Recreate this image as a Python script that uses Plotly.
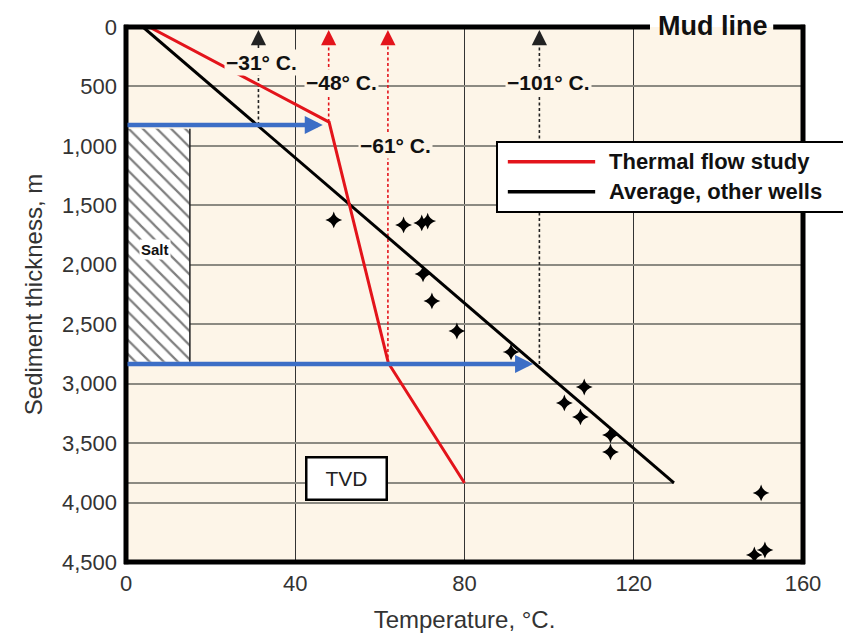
import plotly.graph_objects as go

# ---------------- data ----------------
thermal_temp = [5.5, 48, 62, 80]
thermal_depth = [0, 800, 2826, 3835]

average_temp = [4, 129.5]
average_depth = [0, 3835]

well_temp = [49.1, 65.6, 69.9, 71.3, 70.2, 72.3, 78.2, 91.0, 108.3, 103.6, 107.4, 114.5, 114.5, 150.1, 148.5, 151.0]
well_depth = [1623, 1665, 1648, 1632, 2077, 2304, 2557, 2733, 3028, 3162, 3280, 3431, 3574, 3919, 4441, 4399]

marker_temps = [31.3, 47.9, 61.9, 97.7]
marker_bottoms = [824, 800, 2826, 2834]
marker_labels = ["\u221231\u00b0 C.", "\u221248\u00b0 C.", "\u221261\u00b0 C.", "\u2212101\u00b0 C."]
marker_colors = ["#222222", "#E3141B", "#E3141B", "#222222"]
label_temp = [32.0, 51.0, 63.7, 99.8]
label_depth = [301, 470, 1000, 470]
arrow_top = 25

blue_depths = [824, 2834]
blue_tips = [46.5, 96.2]

salt_left, salt_right = 0, 15.1
salt_top, salt_bottom = 855, 2815

tvd_depth = 3835
x_ticks = [0, 40, 80, 120, 160]
y_ticks = [0, 500, 1000, 1500, 2000, 2500, 3000, 3500, 4000, 4500]
y_ticktext = ["0", "500", "1,000", "1,500", "2,000", "2,500", "3,000", "3,500", "4,000", "4,500"]

CREAM = "#FDF5E8"
RED = "#E3141B"
BLUE = "#3C6EC6"
FONT = "Liberation Sans, Arial, sans-serif"

fig = go.Figure()

# salt body (hatched)
fig.add_trace(go.Scatter(
    x=[salt_left, salt_right, salt_right, salt_left, salt_left],
    y=[salt_top, salt_top, salt_bottom, salt_bottom, salt_top],
    mode="lines", fill="toself", line=dict(width=0, color="black"),
    fillcolor="white",
    fillpattern=dict(shape="\\", fgcolor="#000000", bgcolor="white", size=10, solidity=0.22),
    hoverinfo="skip", showlegend=False, name="Salt"))
fig.add_trace(go.Scatter(
    x=[salt_right, salt_right], y=[salt_top, salt_bottom], mode="lines",
    line=dict(color="#222222", width=1.5), hoverinfo="skip", showlegend=False))

# TVD line
fig.add_trace(go.Scatter(
    x=[0, average_temp[-1]], y=[tvd_depth, tvd_depth], mode="lines",
    line=dict(color="#8c8a82", width=2), hoverinfo="skip", showlegend=False))

# dashed vertical lines
for t, b, c in zip(marker_temps, marker_bottoms, marker_colors):
    fig.add_trace(go.Scatter(
        x=[t, t], y=[b, arrow_top + 20], mode="lines",
        line=dict(color=c, width=1.6, dash="3px,2.5px"),
        hoverinfo="skip", showlegend=False))

# main lines
fig.add_trace(go.Scatter(x=average_temp, y=average_depth, mode="lines",
                         line=dict(color="black", width=3), name="Average, other wells",
                         showlegend=False))
fig.add_trace(go.Scatter(x=thermal_temp, y=thermal_depth, mode="lines",
                         line=dict(color=RED, width=3), name="Thermal flow study",
                         showlegend=False))

# well data points
fig.add_trace(go.Scatter(x=well_temp, y=well_depth, mode="markers",
                         marker=dict(symbol="star-diamond", size=12, color="black"),
                         name="Wells", showlegend=False))

annotations = []
# arrowheads of dashed lines
for t, c in zip(marker_temps, marker_colors):
    annotations.append(dict(x=t, y=arrow_top, xref="x", yref="y", ax=0, ay=11,
                            showarrow=True, arrowhead=2, arrowsize=1.9, arrowwidth=1.6,
                            arrowcolor=c, text="", standoff=0))
# blue arrows
for d, tip in zip(blue_depths, blue_tips):
    annotations.append(dict(x=tip, y=d, xref="x", yref="y", ax=0, ay=d,
                            axref="x", ayref="y", showarrow=True, arrowhead=2,
                            arrowsize=0.8, arrowwidth=4.5, arrowcolor=BLUE, text="",
                            standoff=0))
for t, d, txt in zip(label_temp, label_depth, marker_labels):
    annotations.append(dict(x=t, y=d, xref="x", yref="y", text=txt, showarrow=False,
                            xanchor="center",
                            font=dict(family=FONT, size=21, color="#111111", weight="bold"),
                            bgcolor=CREAM, borderpad=1))
annotations.append(dict(x=6.9, y=1875, xref="x", yref="y", text="Salt", showarrow=False,
                        font=dict(family=FONT, size=15, color="#111111", weight="bold"),
                        bgcolor="white", borderpad=1))
annotations.append(dict(x=52, y=3800, xref="x", yref="y", text="TVD", showarrow=False,
                        font=dict(family=FONT, size=21, color="#222222"),
                        bgcolor="white", bordercolor="black", borderwidth=2.5,
                        width=76, height=38, borderpad=1))
annotations.append(dict(x=0.867, y=1.0, xref="paper", yref="paper", text="Mud line",
                        showarrow=False, xanchor="center", yanchor="middle", yshift=1,
                        font=dict(family=FONT, size=27, color="#111111", weight="bold")))
# legend
annotations.append(dict(x=0.710, y=0.748, xref="paper", yref="paper", text="Thermal flow study",
                        showarrow=False, xanchor="left", yanchor="middle",
                        font=dict(family=FONT, size=22, color="#111111", weight="bold")))
annotations.append(dict(x=0.710, y=0.692, xref="paper", yref="paper", text="Average, other wells",
                        showarrow=False, xanchor="left", yanchor="middle",
                        font=dict(family=FONT, size=22, color="#111111", weight="bold")))

shapes = [
    # frame
    dict(type="line", xref="paper", yref="paper", x0=0, x1=0, y0=-0.004, y1=1.004,
         line=dict(color="black", width=5), layer="above"),
    dict(type="line", xref="paper", yref="paper", x0=1, x1=1, y0=-0.004, y1=1.004,
         line=dict(color="black", width=5), layer="above"),
    dict(type="line", xref="paper", yref="paper", x0=-0.003, x1=1.003, y0=0, y1=0,
         line=dict(color="black", width=5), layer="above"),
    dict(type="line", xref="paper", yref="paper", x0=-0.003, x1=0.774, y0=1, y1=1,
         line=dict(color="black", width=5), layer="above"),
    dict(type="line", xref="paper", yref="paper", x0=0.956, x1=1.003, y0=1, y1=1,
         line=dict(color="black", width=5), layer="above"),
    # legend box
    dict(type="rect", xref="paper", yref="paper", x0=0.548, x1=1.1, y0=0.654, y1=0.785,
         line=dict(color="black", width=2), fillcolor="white", layer="above"),
    dict(type="line", xref="paper", yref="paper", x0=0.564, x1=0.693, y0=0.748, y1=0.748,
         line=dict(color=RED, width=3.5), layer="above"),
    dict(type="line", xref="paper", yref="paper", x0=0.564, x1=0.693, y0=0.692, y1=0.692,
         line=dict(color="black", width=3.5), layer="above"),
]

fig.update_layout(
    width=843, height=641,
    margin=dict(l=126, r=40, t=27, b=79),
    paper_bgcolor="white", plot_bgcolor=CREAM,
    font=dict(family=FONT, color="#333333"),
    annotations=annotations, shapes=shapes,
    xaxis=dict(range=[0, 160], tickvals=x_ticks, showgrid=True, gridcolor="#333333",
               gridwidth=1, zeroline=False, ticks="", showline=False,
               tickfont=dict(size=22, color="#333333"), ticklabelstandoff=6,
               title=dict(text="Temperature, \u00b0C.", font=dict(size=24, color="#333333"),
                          standoff=16)),
    yaxis=dict(range=[4500, 0], tickvals=y_ticks, ticktext=y_ticktext, showgrid=True,
               gridcolor="#8c8a82", gridwidth=2, zeroline=False, ticks="", showline=False,
               tickfont=dict(size=22, color="#333333"), ticklabelstandoff=8,
               title=dict(text="Sediment thickness, m", font=dict(size=24, color="#333333"),
                          standoff=12)),
)

fig.write_html("out.html", config={"displayModeBar": False},
               post_script="document.body.style.margin='0px';document.body.style.padding='0px';")
